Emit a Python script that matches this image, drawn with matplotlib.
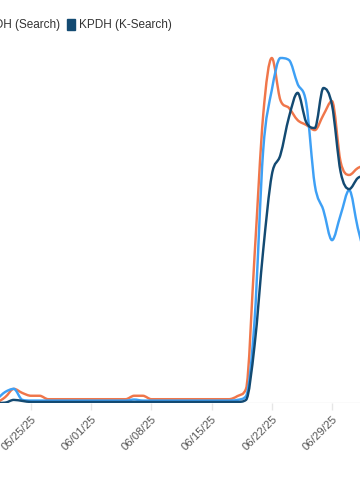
import numpy as np
import matplotlib
matplotlib.use("Agg")
import matplotlib.pyplot as plt
import matplotlib.dates as mdates
from matplotlib.path import Path
from matplotlib.patches import PathPatch, Patch
import datetime as dt

plt.rcParams['font.family'] = ['Liberation Sans', 'DejaVu Sans']

# ---------------- data ----------------
start = dt.date(2025, 5, 20)
dates = [start + dt.timedelta(days=i) for i in range(45)]  # 05/20 .. 07/03

orange = ([0.2, 0.3, 1.7, 4.1, 2.9, 2.1, 2.1, 1.1] + [1.1] * 8 +      # 05/20..06/04
          [1.1, 2.1, 2.1] + [1.1] * 10 +                               # 06/05..06/17
          [2.0, 4.1, 42.9, 83.5, 100.0, 87.8, 85.5, 82.0, 80.6, 79.1,  # 06/18..06/27
           83.5, 87.5, 69.9, 66.1, 68.1, 69.0])                        # 06/28..07/03

lightblue = ([0.6, 1.2, 3.2, 4.1, 0.9] + [0.7] * 12 +                 # 05/20..06/05
             [1.0] + [0.7] * 11 +                                      # 06/06..06/17
             [0.9, 2.0, 24.1, 73.3, 90.7, 100.0, 99.4, 92.5, 87.0,     # 06/18..06/26
              63.2, 55.9, 47.2, 54.5, 61.7, 50.7, 41.0])               # 06/27..07/03

navy = ([0.0, 0.0, 0.1, 0.9, 0.6] + [0.3] * 25 +                      # 05/20..06/18
        [0.9, 16.8, 44.3, 66.1, 71.9, 82.9, 89.9, 81.4, 79.7,          # 06/19..06/27
         91.3, 86.4, 67.0, 62.0, 65.2, 66.0])                          # 06/28..07/03

series = [
    ("KPDH (Trends)", orange, "#f0764a"),
    ("KPDH (Search)", lightblue, "#3ea0f5"),
    ("KPDH (K-Search)", navy, "#134a72"),
]
tick_dates = [dt.date(2025, 5, 25) + dt.timedelta(days=7 * k) for k in range(6)]


def monotone_path(x, y):
    """Monotone cubic (Fritsch-Carlson) curve as a Bezier path through the data."""
    x = np.asarray(x, float); y = np.asarray(y, float)
    n = len(x)
    h = np.diff(x); s = np.diff(y) / h
    m = np.zeros(n)
    m[0] = s[0]; m[-1] = s[-1]
    for i in range(1, n - 1):
        if s[i - 1] * s[i] <= 0:
            m[i] = 0
        else:
            m[i] = (s[i - 1] + s[i]) / 2
            a = m[i] / s[i - 1]; b = m[i] / s[i]
            t = a * a + b * b
            if t > 9:
                m[i] = 3 / np.sqrt(t) * m[i]
    verts = [(x[0], y[0])]
    codes = [Path.MOVETO]
    for i in range(n - 1):
        d = h[i] / 3
        verts += [(x[i] + d, y[i] + m[i] * d), (x[i + 1] - d, y[i + 1] - m[i + 1] * d), (x[i + 1], y[i + 1])]
        codes += [Path.CURVE4] * 3
    return Path(verts, codes)


fig = plt.figure(figsize=(3.6, 5.0), dpi=100)
ax = fig.add_axes([0, 0.194, 1, 0.726])

xnum = mdates.date2num(dates)
for name, vals, col in series:
    p = monotone_path(xnum, vals)
    ax.add_patch(PathPatch(p, facecolor='none', edgecolor=col, lw=1.75,
                           capstyle='round', joinstyle='round', zorder=3))

x0 = mdates.date2num(dt.date(2025, 5, 25))
ax.set_xlim(x0 - 31 / 8.6, x0 + (360 - 31) / 8.6)
ax.set_ylim(0, 100 * 363 / 345)

for sp in ax.spines.values():
    sp.set_visible(False)
ax.axhline(0, color='#e6e6e6', lw=1, zorder=1)
ax.set_yticks([])
ax.set_xticks(mdates.date2num(tick_dates))
ax.set_xticklabels([d.strftime('%m/%d/%y') for d in tick_dates])
ax.tick_params(axis='x', length=5, width=1, color='#e6e6e6', pad=3,
               labelsize=8.1, labelcolor='#555555')
for lbl in ax.get_xticklabels():
    lbl.set_rotation(45)
    lbl.set_ha('right')
    lbl.set_va('top')
    lbl.set_rotation_mode('anchor')

handles = [Patch(facecolor=c, edgecolor=c, label=n) for n, _, c in series]
leg = fig.legend(handles=handles, loc='center left', ncol=3, frameon=False,
                 fontsize=8.5, handlelength=0.7, handleheight=1.1,
                 handletextpad=0.3, columnspacing=0.6,
                 bbox_to_anchor=(0, 1 - 25 / 500), labelcolor='#333333')
fig.canvas.draw()
# shift legend so the K-Search entry begins where it does in the reference
txt = leg.get_texts()[2]
bb = txt.get_window_extent()
shift = 79 - bb.x0
leg.set_bbox_to_anchor((shift / 360, 1 - 25 / 500), transform=fig.transFigure)

fig.savefig('out.png', dpi=100)
